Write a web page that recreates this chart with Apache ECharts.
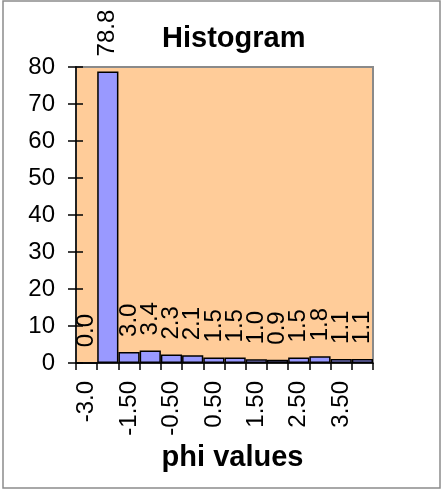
<!DOCTYPE html>
<html>
<head>
<meta charset="utf-8">
<script src="https://cdn.jsdelivr.net/npm/echarts@6/dist/echarts.min.js"></script>
<style>
  html, body { margin: 0; padding: 0; background: #ffffff; }
  #chart { width: 442px; height: 492px; }
</style>
</head>
<body>
<div id="chart"></div>
<script>
// Histogram of phi values: bin labels and bin frequencies
var binLabels = ['-3.0', '-2.00', '-1.50', '-1.00', '-0.50', '0.00', '0.50',
                 '1.00', '1.50', '2.00', '2.50', '3.00', '3.50', '4.00'];
var frequencies = [0.0, 78.8, 3.0, 3.4, 2.3, 2.1, 1.5, 1.5, 1.0, 0.9, 1.5, 1.8, 1.1, 1.1];
var yTicks = [0, 10, 20, 30, 40, 50, 60, 70, 80];

var yMin = yTicks[0];
var yMax = yTicks[yTicks.length - 1];
var yStep = yTicks[1] - yTicks[0];
var textFont = 'Liberation Sans, Arial, sans-serif';

var chart = echarts.init(document.getElementById('chart'), null, { renderer: 'canvas' });

chart.setOption({
  backgroundColor: '#ffffff',
  animation: false,
  title: {
    text: 'Histogram',
    left: 162,
    top: 24,
    padding: 0,
    textStyle: { fontFamily: textFont, fontSize: 29, fontWeight: 'bold', color: '#000000' }
  },
  graphic: [{
    type: 'rect',
    shape: { x: 3, y: 1, width: 437, height: 487 },
    style: { fill: 'none', stroke: '#8c8c8c', lineWidth: 1.5 },
    silent: true
  }],
  grid: {
    left: 76, right: 69, top: 67, bottom: 129,
    show: true,
    backgroundColor: '#FFCC99',
    borderColor: '#8a8a8a',
    borderWidth: 2
  },
  xAxis: {
    type: 'category',
    data: binLabels,
    name: 'phi values',
    nameLocation: 'middle',
    nameGap: 78,
    nameTextStyle: {
      fontFamily: textFont, fontSize: 29, fontWeight: 'bold', color: '#000000',
      padding: [0, 0, 0, 16]
    },
    axisLine: { lineStyle: { color: '#000000', width: 1.5 } },
    axisTick: { show: true, interval: 0, alignWithLabel: false, length: 7,
                lineStyle: { color: '#000000', width: 1.5 } },
    axisLabel: { interval: 1, rotate: 90, margin: 18, fontFamily: textFont,
                 fontSize: 24, color: '#000000' },
    splitLine: { show: false }
  },
  yAxis: [{
    type: 'value',
    min: yMin, max: yMax, interval: yStep,
    axisLine: { show: true, lineStyle: { color: '#000000', width: 1.5 } },
    axisTick: { show: true, length: 8, lineStyle: { color: '#000000', width: 1.5 } },
    axisLabel: { margin: 21, fontFamily: textFont, fontSize: 24, color: '#000000' },
    splitLine: { show: false }
  }, {
    // inner half of the crossing tick marks
    type: 'value',
    position: 'left',
    min: yMin, max: yMax, interval: yStep,
    axisLine: { show: false },
    axisTick: { show: true, inside: true, length: 7, lineStyle: { color: '#000000', width: 1.5 } },
    axisLabel: { show: false },
    splitLine: { show: false }
  }],
  series: [{
    type: 'bar',
    data: frequencies,
    yAxisIndex: 0,
    barCategoryGap: '0%',
    itemStyle: { color: '#9999FF', borderColor: '#000000', borderWidth: 1.5 },
    label: {
      show: true,
      position: 'top',
      distance: 15,
      rotate: 90,
      align: 'left',
      verticalAlign: 'middle',
      fontFamily: textFont,
      fontSize: 24,
      color: '#000000',
      formatter: function (p) { return p.value.toFixed(1); }
    }
  }]
});
</script>
</body>
</html>
